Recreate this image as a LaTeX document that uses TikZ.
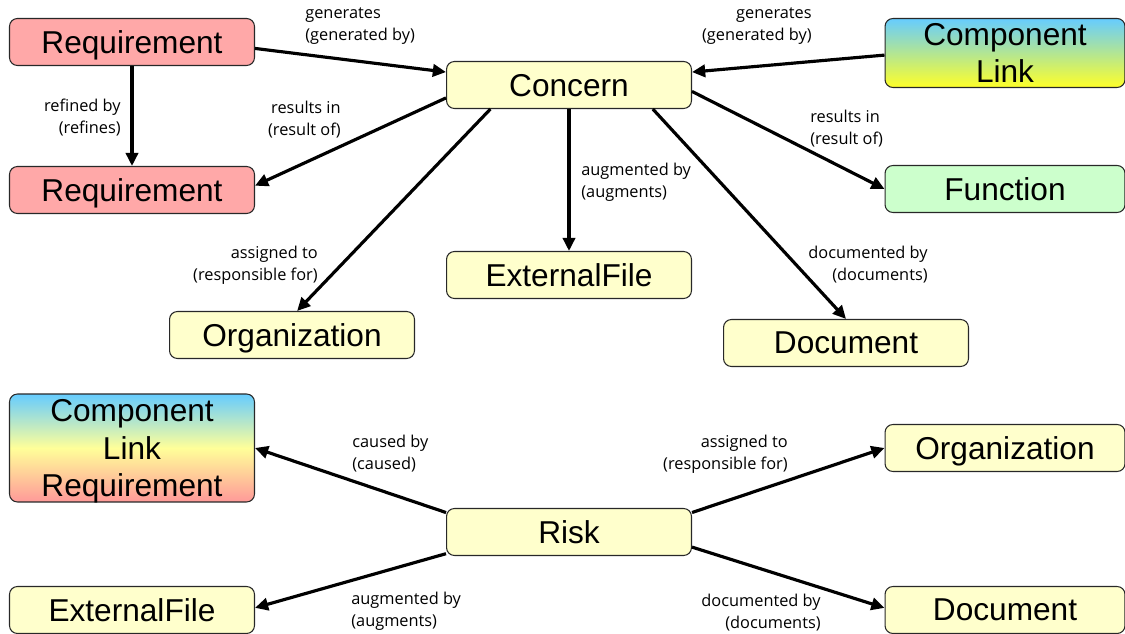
\documentclass[tikz,border=0pt]{standalone}
\usepackage{fontspec}
\usepackage{xcolor}
\usepackage{tikz}
\setmainfont{Liberation Sans}
\newfontfamily\lblfont{Open Sans}
\definecolor{reqred}{RGB}{255, 168, 168}
\definecolor{paleyellow}{RGB}{255, 255, 204}
\definecolor{palegreen}{RGB}{204, 255, 204}
\definecolor{skyblue}{RGB}{102, 204, 255}
\definecolor{brightyellow}{RGB}{255, 255, 40}
\definecolor{softyellow}{RGB}{255, 255, 153}
\definecolor{softred}{RGB}{255, 153, 153}
\definecolor{darkgray}{RGB}{40, 40, 40}
\usetikzlibrary{arrows.meta, positioning, calc}

\tikzset{
  box/.style={draw=darkgray, fill=paleyellow, rounded corners=4.5pt, line width=0.6pt,
              minimum width=4.9cm, minimum height=0.94cm, inner sep=0pt, align=center,
              text depth=0pt, font=\fontsize{18}{21.5}\selectfont},
  reqbox/.style={box, fill=reqred},
  funcbox/.style={box, fill=palegreen},
  linkbox/.style={box, top color=skyblue, bottom color=brightyellow},
  mixbox/.style={box, top color=skyblue, bottom color=softred, middle color=softyellow},
  rel/.style={line width=1.8pt, -{Triangle[length=7.5pt, width=7pt]}},
  lbl/.style={inner sep=0pt, font=\lblfont\fontsize{9.3}{12.5}\selectfont}
}

\begin{document}
\begin{tikzpicture}[x=0.02cm, y=-0.02cm]
    \useasboundingbox (0,0) rectangle (1125,634);

    % upper part: the concern and its relations
    \node[box] (concern) at (569,85) {Concern};
    \node[reqbox] (req) at (132,42) {Requirement};
    \node[reqbox] (subreq) at (132,190) {Requirement};
    \node[linkbox, minimum width=4.8cm, minimum height=1.38cm] (complink) at (1005,53) {Component\\Link};
    \node[funcbox, minimum width=4.8cm] (function) at (1005,189) {Function};
    \node[box] (extfile) at (569,275) {ExternalFile};
    \node[box] (org) at (292,335) {Organization};
    \node[box] (doc) at (846,343) {Document};

    \draw[rel] (req.357) -- (concern.174);
    \draw[rel] (complink.181) -- (concern.6);
    \draw[rel] (req.south) -- (subreq.north);
    \draw[rel] (concern.186) -- (subreq.2);
    \draw[rel] (concern.357) -- (function.west);
    \draw[rel] (concern.south) -- (extfile.north);
    \draw[rel] (concern.197) -- (org.78);
    \draw[rel] (concern.344) -- (doc.north);

    \node[lbl, anchor=west, align=left] (genl) at (305,26) {generates\\(generated by)};
    \node[lbl, anchor=east, align=right] (genr) at (812,26) {generates\\(generated by)};
    \node[lbl, anchor=east, align=right] (refl) at (121,118) {refined by\\(refines)};
    \node[lbl, anchor=east, align=right] (resl) at (341,120) {results in\\(result of)};
    \node[lbl, anchor=west, align=left] (resr) at (810,129) {results in\\(result of)};
    \node[lbl, anchor=west, align=left] (augl) at (581,182) {augmented by\\(augments)};
    \node[lbl, anchor=east, align=right] (asgl) at (318,265) {assigned to\\(responsible for)};
    \node[lbl, anchor=east, align=right] (docl) at (928,265) {documented by\\(documents)};

    % lower part: the risk and its relations
    \node[box] (risk) at (569,532) {Risk};
    \node[mixbox, minimum height=2.16cm] (cause) at (132,448) {Component\\Link\\Requirement};
    \node[box, minimum width=4.8cm] (riskorg) at (1005,448) {Organization};
    \node[box] (riskfile) at (132,610) {ExternalFile};
    \node[box, minimum width=4.8cm] (riskdoc) at (1005,610) {Document};

    \draw[rel] (risk.171) -- (cause.east);
    \draw[rel] (risk.9) -- (riskorg.west);
    \draw[rel] (risk.190) -- (riskfile.1);
    \draw[rel] (risk.353) -- (riskdoc.179);

    \node[lbl, anchor=west, align=left] (caul) at (352,454) {caused by\\(caused)};
    \node[lbl, anchor=east, align=right] (rasgl) at (788,454) {assigned to\\(responsible for)};
    \node[lbl, anchor=west, align=left] (raugl) at (351,611) {augmented by\\(augments)};
    \node[lbl, anchor=east, align=right] (rdocl) at (821,613) {documented by\\(documents)};
\end{tikzpicture}
\end{document}
